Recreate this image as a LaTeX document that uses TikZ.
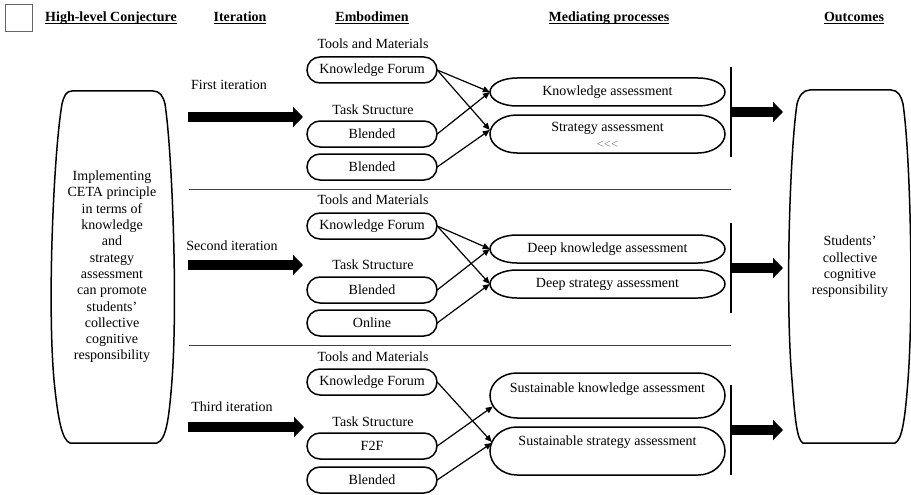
\documentclass[tikz,border=0pt]{standalone}
\usepackage{fontspec}
\setmainfont{Liberation Serif}
\usetikzlibrary{arrows.meta,calc}
\newcommand\ulhd[1]{\setbox0=\hbox{\textbf{#1}}\leavevmode\rlap{\rule[-2.6pt]{\wd0}{1.3pt}}\box0}
\newcommand\medbox[7]{%
  \node[inner sep=0,minimum width={2*#4},minimum height={2*#5}] (#1) at (#2,#3) {#7};
  \draw[ovl] ({#2-#4+#6},{#3-#5}) -- ({#2+#4-#6},{#3-#5})
     arc[start angle=90,end angle=-90,x radius=#6pt,y radius=#5pt]
     -- ({#2-#4+#6},{#3+#5})
     arc[start angle=270,end angle=90,x radius=#6pt,y radius=#5pt] -- cycle;}
\tikzset{
  txt/.style={inner sep=0,align=center},
  ovl/.style={line width=1.5pt},
  conn/.style={line width=1.2pt,-{Triangle[length=7pt,width=6pt]}},
  bigarrow/.style={line width=10pt,-{Triangle[length=10pt,width=20pt]}},
  sepline/.style={line width=0.8pt,black!75},
  vbar/.style={line width=1.5pt},
  cup/.style={line width=1.5pt},
}
\begin{document}
\begin{tikzpicture}[x=1pt,y=-1pt,font=\fontsize{14}{16.3}\selectfont]
\useasboundingbox (0,0) rectangle (911,495);

% legend square
\node[draw=black!60,line width=0.8pt,minimum size=27pt,inner sep=0] (legend) at (18.5,17.5) {};

% headers
\node[txt] (h1) at (111,18) {\ulhd{High-level Conjecture}};
\node[txt] (h2) at (240,18) {\ulhd{Iteration}};
\node[txt] (h3) at (372,18) {\ulhd{Embodimen}};
\node[txt] (h4) at (609,18) {\ulhd{Mediating processes}};
\node[txt] (h5) at (854,18) {\ulhd{Outcomes}};

% left cup
\draw[cup] (72,91) -- (153,91) .. controls (160,91) and (163,96) .. (165,104)
  .. controls (172,150) and (178,300) .. (172,380)
  .. controls (169,420) and (166,440) .. (157,443) -- (70,443)
  .. controls (62,440) and (58,420) .. (54,380)
  .. controls (47,300) and (54,150) .. (62,104)
  .. controls (64,96) and (66,91) .. (72,91) -- cycle;
\node[txt] (conj) at (112,267) {Implementing\\CETA principle\\in terms of\\knowledge\\and\\strategy\\assessment\\can promote\\students’\\collective\\cognitive\\responsibility};

% right cup
\draw[cup] (810,90) -- (891,90) .. controls (898,90) and (901,96) .. (903,104)
  .. controls (910,150) and (914,300) .. (908,380)
  .. controls (905,420) and (902,440) .. (895,443) -- (803,443)
  .. controls (797,440) and (795,420) .. (792,380)
  .. controls (785,300) and (790,150) .. (797,104)
  .. controls (799,96) and (803,90) .. (810,90) -- cycle;
\node[txt] (outc) at (850,267) {Students’\\collective\\cognitive\\responsibility};

% iteration labels and big arrows
\node[txt] (it1) at (229,85) {First iteration};
\node[txt] (it2) at (232,246) {Second iteration};
\node[txt] (it3) at (232,407) {Third iteration};
\coordinate (a1s) at (188,117); \coordinate (a1e) at (303,117);
\coordinate (a2s) at (188,265); \coordinate (a2e) at (303,265);
\coordinate (a3s) at (188,427); \coordinate (a3e) at (304,427);
\draw[bigarrow] (a1s) -- (a1e);
\draw[bigarrow] (a2s) -- (a2e);
\draw[bigarrow] (a3s) -- (a3e);

% separators
\coordinate (s1a) at (189,189); \coordinate (s1b) at (731,189);
\coordinate (s2a) at (189,345); \coordinate (s2b) at (731,345);
\draw[sepline] (s1a) -- (s1b);
\draw[sepline] (s2a) -- (s2b);

% ---- group 1
\node[txt] (tm1) at (373,44) {Tools and Materials};
\node[txt] (ts1) at (373,110) {Task Structure};
\medbox{kf1}{372}{70}{65}{13}{13}{Knowledge Forum}
\medbox{bl1}{372}{134}{65}{13}{13}{Blended}
\medbox{bl2}{372}{167}{65}{13}{13}{Blended}
\medbox{ka}{607.5}{92}{117.5}{14}{27}{Knowledge assessment}
\medbox{sa}{607.5}{134}{117.5}{19}{27}{}
\node[txt] (satx) at (607.5,128) {Strategy assessment};
\node[txt,font=\fontsize{13}{14}\selectfont,text=black!50] (salt) at (607.5,145) {<{}<{}<};
\draw[conn] (kf1.east) -- (ka.west);
\draw[conn] (kf1.east) -- ([yshift=4pt]sa.west);
\draw[conn] (bl1.east) -- (ka.west);
\draw[conn] (bl2.east) -- ([yshift=4pt]sa.west);
\coordinate (v1a) at (731,67); \coordinate (v1b) at (731,157);
\draw[vbar] (v1a) -- (v1b);
\coordinate (o1s) at (731,112); \coordinate (o1e) at (783,112);
\draw[bigarrow] (o1s) -- (o1e);

% ---- group 2
\node[txt] (tm2) at (373,200) {Tools and Materials};
\node[txt] (ts2) at (373,265) {Task Structure};
\medbox{kf2}{372}{226}{65}{13}{13}{Knowledge Forum}
\medbox{bl3}{372}{290}{65}{13}{13}{Blended}
\medbox{on}{372}{323}{65}{13}{13}{Online}
\medbox{dka}{607.5}{249}{117.5}{14}{27}{Deep knowledge assessment}
\medbox{dsa}{607.5}{284}{117.5}{14}{27}{Deep strategy assessment}
\draw[conn] (kf2.east) -- (dka.west);
\draw[conn] (kf2.east) -- (dsa.west);
\draw[conn] (bl3.east) -- (dka.west);
\draw[conn] (on.east) -- (dsa.west);
\coordinate (v2a) at (731,223); \coordinate (v2b) at (731,313);
\draw[vbar] (v2a) -- (v2b);
\coordinate (o2s) at (731,268); \coordinate (o2e) at (783,268);
\draw[bigarrow] (o2s) -- (o2e);

% ---- group 3
\node[txt] (tm3) at (373,357) {Tools and Materials};
\node[txt] (ts3) at (373,422) {Task Structure};
\medbox{kf3}{372}{382}{65}{13}{13}{Knowledge Forum}
\medbox{ff}{372}{446}{65}{13}{13}{F2F}
\medbox{bl4}{372}{480}{65}{13}{13}{Blended}
\medbox{ska}{607.5}{395.5}{117.5}{22.5}{27}{}
\node[txt] (skatx) at (607.5,389) {Sustainable knowledge assessment};
\medbox{ssa}{607.5}{451}{117.5}{24}{27}{}
\node[txt] (ssatx) at (607.5,442) {Sustainable strategy assessment};
\draw[conn] (kf3.east) -- ([yshift=9pt,xshift=2pt]ssa.west);
\draw[conn] (ff.east) -- ([yshift=-11pt,xshift=3pt]ska.west);
\draw[conn] (bl4.east) -- ([yshift=8pt,xshift=2pt]ssa.west);
\coordinate (v3a) at (731,385); \coordinate (v3b) at (731,475);
\draw[vbar] (v3a) -- (v3b);
\coordinate (o3s) at (731,430); \coordinate (o3e) at (783,430);
\draw[bigarrow] (o3s) -- (o3e);
\end{tikzpicture}
\end{document}
